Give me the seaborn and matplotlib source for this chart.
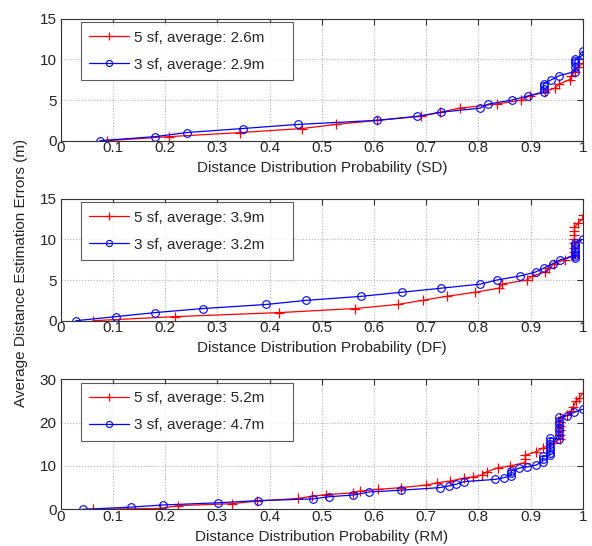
import numpy as np
import pandas as pd
import matplotlib
matplotlib.use("Agg")
import matplotlib.pyplot as plt
import seaborn as sns

sns.set_style("white")
plt.rcParams['font.family'] = ['Liberation Sans', 'DejaVu Sans']

# SD panel
sd_5_x = [0.088, 0.208, 0.344, 0.463, 0.527, 0.606, 0.69, 0.727, 0.764, 0.835, 0.882, 0.898,
          0.928, 0.947, 0.955, 0.975, 0.978, 0.985, 0.99, 1.0]
sd_5_y = [0, 0.5, 1.0, 1.5, 2.0, 2.5, 3.0, 3.5, 4.0, 4.5, 5.0, 5.5,
          6.0, 6.5, 7.0, 7.5, 8.0, 8.5, 9.0, 9.5]
sd_3_x = [0.075, 0.181, 0.241, 0.349, 0.454, 0.606, 0.683, 0.728, 0.803, 0.819, 0.864, 0.895,
          0.925, 0.925, 0.925, 0.925, 0.94, 0.955, 0.985, 0.985, 0.985, 0.985, 0.985, 1.0, 1.0]
sd_3_y = [0, 0.5, 1.0, 1.5, 2.0, 2.5, 3.0, 3.5, 4.0, 4.5, 5.0, 5.5,
          6.0, 6.4, 6.7, 7.0, 7.5, 8.0, 8.5, 9.0, 9.5, 9.8, 10.0, 10.5, 11.0]

# DF panel
df_5_x = [0.062, 0.218, 0.419, 0.564, 0.646, 0.693, 0.739, 0.794, 0.839, 0.845, 0.893, 0.903,
          0.928, 0.935, 0.945, 0.965, 0.981, 0.984, 0.984, 0.984, 0.984, 0.984, 0.984, 0.984,
          0.991, 1.0, 1.0]
df_5_y = [0, 0.5, 1.0, 1.5, 2.0, 2.5, 3.0, 3.5, 4.0, 4.5, 5.0, 5.5,
          6.0, 6.5, 7.0, 7.5, 8.0, 8.5, 9.0, 9.5, 10.0, 10.5, 11.0, 11.5,
          12.0, 12.5, 13.0]
df_3_x = [0.029, 0.105, 0.181, 0.273, 0.394, 0.47, 0.576, 0.653, 0.729, 0.804, 0.835, 0.88,
          0.91, 0.926, 0.942, 0.957, 0.985, 0.985, 0.985, 0.985, 0.985, 0.985, 0.985, 1.0]
df_3_y = [0, 0.5, 1.0, 1.5, 2.0, 2.5, 3.0, 3.5, 4.0, 4.5, 5.0, 5.5,
          6.0, 6.5, 7.0, 7.5, 8.0, 7.7, 8.2, 8.6, 9.0, 9.3, 9.6, 10.0]

# RM panel
rm_5_x = [0.061, 0.19, 0.225, 0.328, 0.376, 0.455, 0.481, 0.509, 0.56, 0.573, 0.608, 0.652,
          0.7, 0.72, 0.745, 0.773, 0.79, 0.806, 0.817, 0.838, 0.86, 0.89, 0.89, 0.89, 0.911,
          0.924, 0.943, 0.956, 0.956, 0.956, 0.956, 0.956, 0.956, 0.97, 0.978, 0.982, 0.987,
          0.993, 1.0]
rm_5_y = [0, 0.2, 0.85, 1.3, 1.9, 2.5, 3.0, 3.4, 3.8, 4.2, 4.6, 5.0,
          5.6, 6.1, 6.5, 7.2, 7.5, 7.9, 8.7, 9.6, 10.0, 10.8, 11.6, 12.5, 13.3,
          14.2, 15.2, 16.2, 17.2, 18.2, 19.2, 20.2, 21.0, 21.8, 22.8, 23.7, 25.0,
          25.6, 26.8]
rm_3_x = [0.042, 0.134, 0.196, 0.301, 0.377, 0.483, 0.514, 0.56, 0.591, 0.651, 0.726, 0.743,
          0.758, 0.773, 0.832, 0.849, 0.863, 0.863, 0.863, 0.878, 0.893, 0.91, 0.923, 0.923,
          0.923, 0.937, 0.937, 0.937, 0.937, 0.937, 0.937, 0.937, 0.954, 0.954, 0.954, 0.954,
          0.954, 0.954, 0.954, 0.97, 0.984, 1.0]
rm_3_y = [0, 0.5, 1.0, 1.5, 2.0, 2.4, 2.9, 3.3, 4.0, 4.4, 5.0, 5.4,
          5.8, 6.4, 6.9, 7.3, 7.8, 8.3, 8.8, 9.5, 9.8, 10.2, 11.0, 11.6,
          12.2, 12.5, 13.1, 13.7, 14.3, 15.0, 15.7, 16.4, 16.3, 17.2, 18.0, 18.8,
          19.6, 20.4, 21.2, 21.6, 22.4, 23.1]

panels = [
    (sd_5_x, sd_5_y, sd_3_x, sd_3_y, "2.6m", "2.9m", "SD", 15, [0, 5, 10, 15]),
    (df_5_x, df_5_y, df_3_x, df_3_y, "3.9m", "3.2m", "DF", 15, [0, 5, 10, 15]),
    (rm_5_x, rm_5_y, rm_3_x, rm_3_y, "5.2m", "4.7m", "RM", 30, [0, 10, 20, 30]),
]
xticks = [0, 0.1, 0.2, 0.3, 0.4, 0.5, 0.6, 0.7, 0.8, 0.9, 1]
xticklabels = ["0", "0.1", "0.2", "0.3", "0.4", "0.5", "0.6", "0.7", "0.8", "0.9", "1"]

fig = plt.figure(figsize=(5.92, 5.46), dpi=100)
boxes = [[0.1025, 0.7423, 0.882, 0.2235],
         [0.1025, 0.4126, 0.882, 0.2235],
         [0.1025, 0.0672, 0.882, 0.2381]]

for box, (x5, y5, x3, y3, a5, a3, tag, ymax, yt) in zip(boxes, panels):
    ax = fig.add_axes(box)
    sns.lineplot(x=x5, y=y5, ax=ax, sort=False, estimator=None, color='red', lw=0.9,
                 marker='+', markersize=7, markeredgewidth=0.9, markeredgecolor='red',
                 label="5 sf, average: " + a5)
    sns.lineplot(x=x3, y=y3, ax=ax, sort=False, estimator=None, color='blue', lw=0.9,
                 marker='o', markersize=5.5, markerfacecolor='none', markeredgecolor='blue',
                 markeredgewidth=0.8, label="3 sf, average: " + a3)
    ax.set_xlim(0, 1)
    ax.set_ylim(0, ymax)
    ax.set_xticks(xticks)
    ax.set_xticklabels(xticklabels)
    ax.set_yticks(yt)
    ax.grid(True, color='#b0b0b0', linestyle=':', linewidth=0.8)
    ax.tick_params(direction='in', top=True, right=True, labelsize=11, length=4,
                   pad=3, color='#333333')
    ax.tick_params(axis='x', pad=0.5)
    for s in ax.spines.values():
        s.set_color('#333333')
        s.set_linewidth(0.8)
    ax.set_xlabel("Distance Distribution Probability (" + tag + ")", fontsize=11, labelpad=4)
    # legend box stretched to the MATLAB-style width
    fh = box[3] * 546
    leg = ax.legend(loc='upper left', bbox_to_anchor=(0.039, 1 - 3.6 / fh, 0.405, 0.0),
                    mode='expand', fontsize=11, handlelength=2.6, markerscale=0.8,
                    frameon=True, fancybox=False, edgecolor='#333333', borderpad=0.55,
                    labelspacing=0.85, handletextpad=0.3, borderaxespad=0.0)
    leg.get_frame().set_linewidth(0.8)

fig.text(0.036, 0.50, "Average Distance Estimation Errors (m)", rotation=90,
         ha='center', va='center', fontsize=11)

plt.savefig("out.png", dpi=100)
